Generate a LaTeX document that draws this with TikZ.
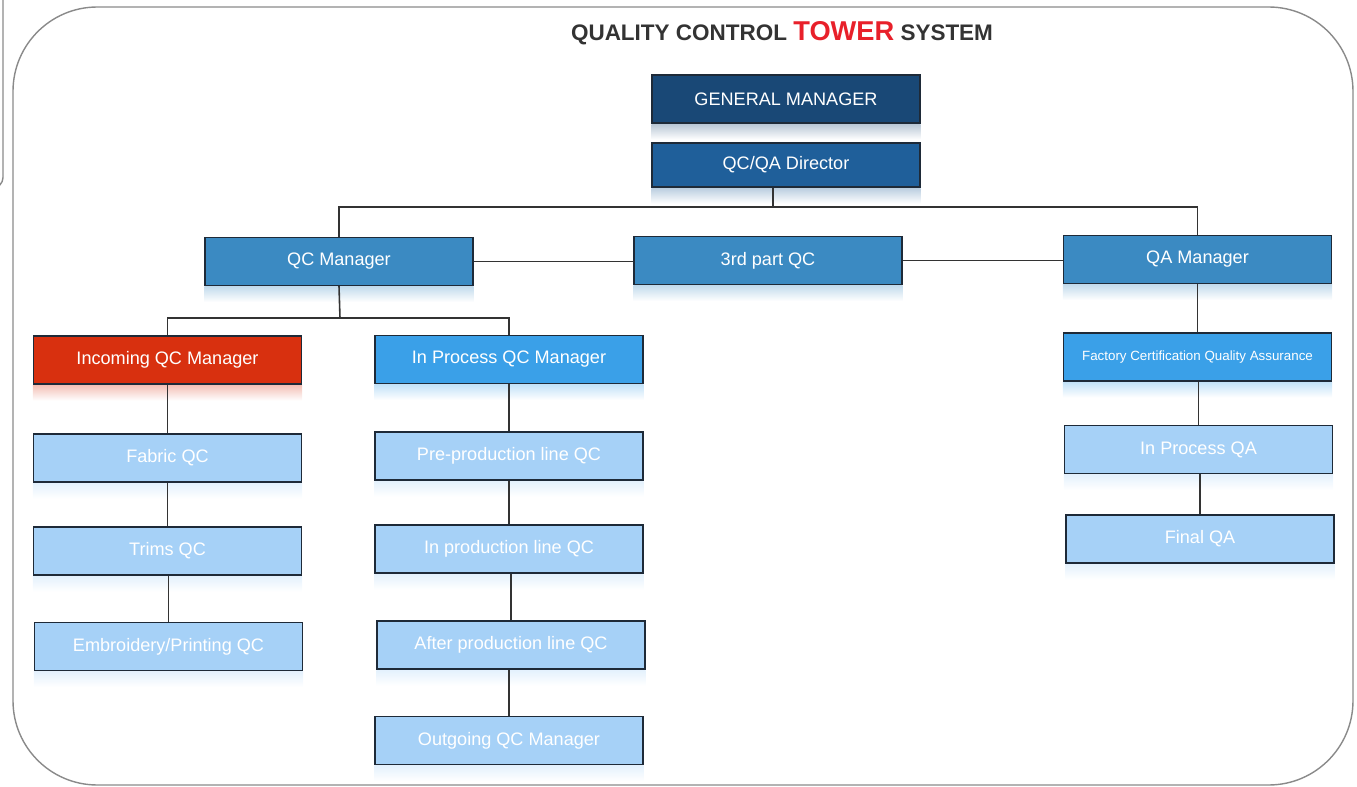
\documentclass[tikz,border=0pt]{standalone}
\usepackage{fontspec}
\setmainfont{Liberation Sans}
\definecolor{gmblue}{HTML}{194876}
\definecolor{dirblue}{HTML}{1F5F9A}
\definecolor{midblue}{HTML}{3B8AC2}
\definecolor{brightblue}{HTML}{3AA0E8}
\definecolor{paleblue}{HTML}{A6D1F7}
\definecolor{incred}{HTML}{D8300F}
\definecolor{towerred}{HTML}{E8202A}
\definecolor{titlecol}{HTML}{333333}
\definecolor{boxline}{HTML}{1E2A38}
\definecolor{linkcol}{HTML}{333333}
\definecolor{framecol}{HTML}{8A8A8A}
\begin{document}
\begin{tikzpicture}[x=0.02cm, y=-0.02cm,
	box/.style={draw=boxline, line width=0.7pt, minimum width=5.36cm, minimum height=0.96cm, inner sep=0pt, text=white, font=\fontsize{10.3}{12}\selectfont},
	link/.style={draw=linkcol, line width=0.9pt}]
	\useasboundingbox (0, 0) rectangle (1357, 787);
	\draw[framecol, line width=0.8pt, rounded corners=6pt] (-40, -20) rectangle (3, 188);
	\draw[framecol, line width=0.8pt, rounded corners=48pt] (13, 7) rectangle (1353, 785);
	\node (title) at (782, 33) {\fontsize{12.8}{15}\selectfont\bfseries\color{titlecol}QUALITY CONTROL {\color{towerred}\fontsize{15.5}{17}\selectfont TOWER} SYSTEM};
	\node[box, fill=gmblue] (gm) at (786, 99) {GENERAL MANAGER};
	\node[box, fill=dirblue, minimum height=0.88cm] (dir) at (786, 165) {QC/QA Director};
	\node[box, fill=midblue] (qcm) at (339, 261.5) {QC Manager};
	\node[box, fill=midblue] (third) at (768, 260.5) {3rd part QC};
	\node[box, fill=midblue] (qam) at (1197.5, 259.5) {QA Manager};
	\node[box, fill=incred] (incoming) at (167.5, 360) {Incoming QC Manager};
	\node[box, fill=brightblue] (inproc) at (509, 359.5) {In Process QC Manager};
	\node[box, fill=brightblue, font=\fontsize{7.6}{9}\selectfont] (factory) at (1197.5, 357) {Factory Certification Quality Assurance};
	\node[box, fill=paleblue] (fabric) at (167.5, 458) {Fabric QC};
	\node[box, fill=paleblue] (trims) at (167.5, 551) {Trims QC};
	\node[box, fill=paleblue] (embro) at (168.5, 646.5) {Embroidery/Printing QC};
	\node[box, fill=paleblue] (pre) at (509, 456) {Pre-production line QC};
	\node[box, fill=paleblue] (inprod) at (509, 549) {In production line QC};
	\node[box, fill=paleblue] (after) at (511, 645) {After production line QC};
	\node[box, fill=paleblue] (outgoing) at (509, 740.5) {Outgoing QC Manager};
	\node[box, fill=paleblue] (inqa) at (1198.5, 449.5) {In Process QA};
	\node[box, fill=paleblue] (finalqa) at (1200, 539) {Final QA};
	\foreach \n/\c in {gm/gmblue, dir/dirblue, qcm/midblue, third/midblue, qam/midblue, incoming/incred, inproc/brightblue, factory/brightblue, fabric/paleblue, trims/paleblue, embro/paleblue, pre/paleblue, inprod/paleblue, after/paleblue, outgoing/paleblue, inqa/paleblue, finalqa/paleblue}
		\shade[top color=\c!30, bottom color=white] ([yshift=-0.4pt]\n.south west) rectangle ([yshift=-0.32cm]\n.south east);
	\coordinate (hub) at (773, 207);
	\coordinate (split) at (340, 318);
	\draw[link] (dir.south -| hub) -- (hub);
	\draw[link] (qcm.north) -- (qcm.north |- hub) -- (qam.north |- hub) -- (qam.north);
	\draw[link] (qcm.east) -- (qcm.east -| third.west);
	\draw[link] (third.east) -- (third.east -| qam.west);
	\draw[link] (qcm.south) -- (split);
	\draw[link] (incoming.north) -- (incoming.north |- split) -- (inproc.north |- split) -- (inproc.north);
	\foreach \a/\b in {incoming/fabric, fabric/trims, trims/embro, inproc/pre, pre/inprod, inprod/after, after/outgoing, qam/factory, factory/inqa, inqa/finalqa}
		\draw[link] (\b.north) -- (\b.north |- \a.south);
\end{tikzpicture}
\end{document}
